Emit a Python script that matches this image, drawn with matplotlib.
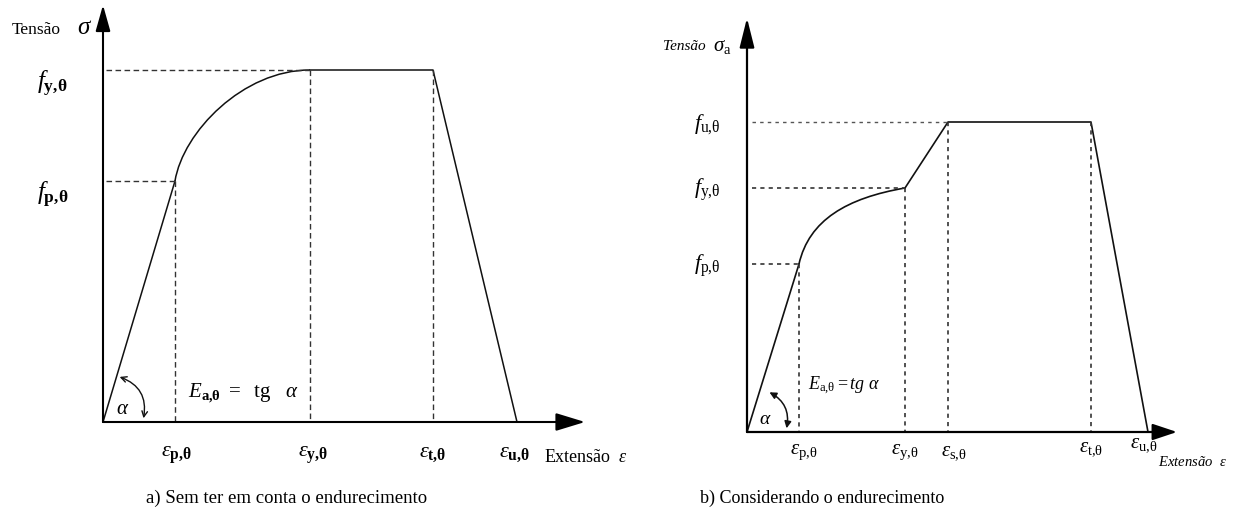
import matplotlib.pyplot as plt
from matplotlib.patches import FancyArrowPatch, PathPatch
from matplotlib.path import Path

plt.rcParams['font.family'] = ['Liberation Serif', 'DejaVu Serif']
plt.rcParams['mathtext.fontset'] = 'custom'
plt.rcParams['mathtext.rm'] = 'Liberation Serif'
plt.rcParams['mathtext.it'] = 'Liberation Serif:italic'
plt.rcParams['mathtext.bf'] = 'Liberation Serif:bold'

# a) without strain hardening: strains p, y, t, u and stresses p, y
A_EPS = [72, 207, 330, 414]
A_SIG = [241, 352]
A_EPS_LABELS = ['p{,}θ', 'y{,}θ', 't{,}θ', 'u{,}θ']
A_SIG_LABELS = ['p{,}θ', 'y{,}θ']
# Bezier control points of the elliptic branch between f_p and f_y
A_CURVE = [(72, 241), (80, 290), (140, 352), (207, 352)]

# b) with strain hardening: strains p, y, s, t, u and stresses p, y, u
B_EPS = [52, 158, 201, 344, 401]
B_SIG = [168, 244, 310]
B_EPS_LABELS = ['p{,}θ', 'y{,}θ', 's{,}θ', 't{,}θ', 'u{,}θ']
B_SIG_LABELS = ['p{,}θ', 'y{,}θ', 'u{,}θ']
B_CURVE = [(52, 168), (62, 212), (100, 234), (158, 244)]

CAPTION_A = 'a) Sem ter em conta o endurecimento'
CAPTION_B = 'b) Considerando o endurecimento'

LINE = '#111111'
DASH = '#333333'

fig = plt.figure(figsize=(12.33, 5.14), dpi=100)

# one axes per panel, one data unit per pixel
ax1 = fig.add_axes([0, 0, 620 / 1233, 1])
ax1.set_xlim(-103, 517)
ax1.set_ylim(-92, 422)
ax2 = fig.add_axes([620 / 1233, 0, 613 / 1233, 1])
ax2.set_xlim(-127, 486)
ax2.set_ylim(-82, 432)
for ax in (ax1, ax2):
    ax.set_axis_off()


def axis_arrow(ax, end, hl, hw, lw):
    ax.annotate('', xy=end, xytext=(0, 0),
                arrowprops=dict(arrowstyle=f'-|>,head_length={hl},head_width={hw}',
                                color='black', lw=lw, shrinkA=0, shrinkB=0),
                annotation_clip=False)


def bezier(ax, pts, lw):
    path = Path(pts, [Path.MOVETO, Path.CURVE4, Path.CURVE4, Path.CURVE4])
    ax.add_patch(PathPatch(path, fill=False, ec=LINE, lw=lw))


# ---------- panel a ----------
ep, ey, et, eu = A_EPS
fp, fy = A_SIG
axis_arrow(ax1, (482, 0), 1.8, 0.55, 1.5)
axis_arrow(ax1, (0, 417), 1.6, 0.45, 1.5)

ax1.plot([0, ep], [0, fp], color=LINE, lw=1.1)
bezier(ax1, A_CURVE, 1.1)
ax1.plot([ey, et, eu], [fy, fy, 0], color=LINE, lw=1.1)

dash_a = dict(color=DASH, lw=1.0, ls=(0, (4, 2.5)))
ax1.plot([3, ep], [fp, fp], **dash_a)
ax1.plot([ep, ep], [fp, 0], **dash_a)
ax1.plot([3, ey], [fy, fy], **dash_a)
ax1.plot([ey, ey], [fy, 0], **dash_a)
ax1.plot([et, et], [fy, 0], **dash_a)

ax1.add_patch(FancyArrowPatch((14, 46), (40, 1), arrowstyle='<->',
                              connectionstyle='arc3,rad=-0.45',
                              mutation_scale=10, lw=1.0, color=LINE))
ax1.text(20, 12, r'$α$', fontsize=15, ha='center', va='center')
ax1.text(85, 29, r'$E_{\mathbf{a{,}θ}}$ $=$  tg   $α$', fontsize=15,
         ha='left', va='center')

ax1.text(-91, 392, 'Tensão', fontsize=12.5, ha='left', va='center')
ax1.text(-18, 394, r'$σ$', fontsize=18, ha='center', va='center')
for s, lab in zip(A_SIG, A_SIG_LABELS):
    ax1.text(-66, s - 14, r'$f_{\mathbf{' + lab + '}}$', fontsize=18,
             ha='left', va='center')
for e, lab, dx in zip(A_EPS, A_EPS_LABELS, [1, 3, 0, -3]):
    ax1.text(e + dx, -33, r'$ε_{\mathbf{' + lab + '}}$', fontsize=16,
             ha='center', va='center')
ax1.text(441, -35, r'Extensão  $ε$', fontsize=13, ha='left', va='center')
ax1.text(184, -76, CAPTION_A, fontsize=13.5, ha='center', va='center')

# ---------- panel b ----------
bp, by, bs, bt, bu = B_EPS
gp, gy, gu = B_SIG
axis_arrow(ax2, (430, 0), 1.5, 0.5, 1.6)
axis_arrow(ax2, (0, 414), 1.8, 0.45, 1.6)

ax2.plot([0, bp], [0, gp], color=LINE, lw=1.2)
bezier(ax2, B_CURVE, 1.2)
ax2.plot([by, bs, bt, bu], [gy, gu, gu, 0], color=LINE, lw=1.2)

dash_b = dict(color=DASH, lw=1.2, ls=(0, (2.5, 2.5)))
ax2.plot([5, bp], [gp, gp], **dash_b)
ax2.plot([bp, bp], [gp, 0], **dash_b)
ax2.plot([5, by], [gy, gy], **dash_b)
ax2.plot([by, by], [gy, 0], **dash_b)
ax2.plot([5, bs], [gu, gu], color='#555555', lw=1.0, ls=(0, (2.5, 3)))
ax2.plot([bs, bs], [gu, 0], **dash_b)
ax2.plot([bt, bt], [gu, 0], **dash_b)

ax2.add_patch(FancyArrowPatch((20, 41), (39, 1), arrowstyle='<|-|>',
                              connectionstyle='arc3,rad=-0.4',
                              mutation_scale=10, lw=1.1, color=LINE))
ax2.text(18, 12, r'$α$', fontsize=14, ha='center', va='center')
ax2.text(61, 46, r'$E_{\mathrm{a{,}θ}}$$=$$tg\ α$', fontsize=13,
         ha='left', va='center')

ax2.text(-84, 386, 'Tensão', fontsize=11, style='italic',
         ha='left', va='center')
ax2.text(-34, 386, r'$σ_{\mathrm{a}}$', fontsize=15, ha='left', va='center')
for s, lab in zip(B_SIG, B_SIG_LABELS):
    ax2.text(-53, s - 2, r'$f_{\mathrm{' + lab + '}}$', fontsize=16,
             ha='left', va='center')
for e, lab, dx, dy in zip(B_EPS, B_EPS_LABELS, [5, 0, 6, 0, -4],
                          [-20, -20, -20, -17, -13]):
    ax2.text(e + dx, dy, r'$ε_{\mathrm{' + lab + '}}$', fontsize=15,
             ha='center', va='center')
ax2.text(411, -30, r'Extensão  $ε$', fontsize=10.5, style='italic',
         ha='left', va='center')
ax2.text(75, -66, CAPTION_B, fontsize=13, ha='center', va='center')

fig.savefig('out.png', dpi=100)
